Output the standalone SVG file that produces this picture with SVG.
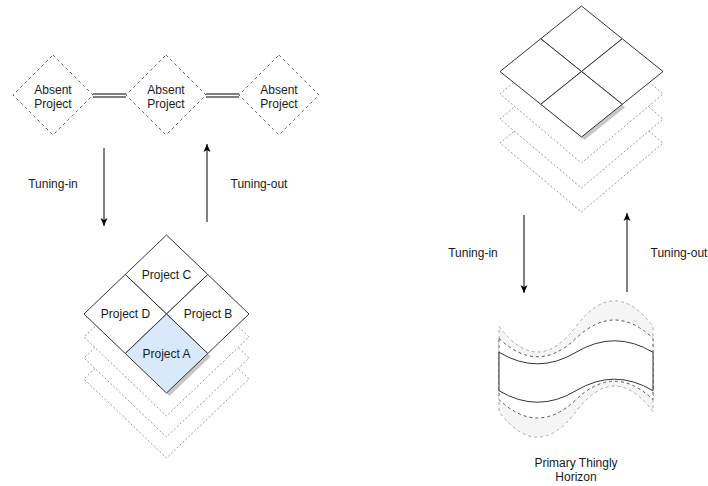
<svg xmlns="http://www.w3.org/2000/svg" width="708" height="486" viewBox="0 0 708 486">
<style>
text{font-family:"Liberation Sans",Arial,sans-serif;font-size:12px;fill:#1a1a1a;text-anchor:middle}
.absent{fill:#fff;stroke:#666;stroke-dasharray:3 3}
.layer{fill:#fff;stroke:#999;stroke-dasharray:2 2}
.cell{fill:#fff;stroke:#333}
.edge{stroke:#000;fill:none}
.shadow{fill:#000;opacity:0.22}
</style>
<defs>
<marker id="arr" markerUnits="userSpaceOnUse" markerWidth="8" markerHeight="8" viewBox="0 0 8 8" refX="8" refY="4" orient="auto">
<path d="M0,0.5 L8,4 L0,7.5 L2,4 Z" fill="#000"/>
</marker>
</defs>
<rect width="708" height="486" fill="#fff"/>

<g id="absent1"><polygon class="absent" points="53,55 93,95 53,135 13,95"/><text x="53" y="94">Absent</text><text x="53" y="108">Project</text></g>
<g id="absent2"><polygon class="absent" points="166,55 206,95 166,135 126,95"/><text x="166" y="94">Absent</text><text x="166" y="108">Project</text></g>
<g id="absent3"><polygon class="absent" points="279,55 319,95 279,135 239,95"/><text x="279" y="94">Absent</text><text x="279" y="108">Project</text></g>

<g id="layersLeft">
<polygon class="layer" points="166.5,300 249,379 166.5,458 84,379"/>
<polygon class="layer" points="166.5,279 249,358 166.5,437 84,358"/>
<polygon class="layer" points="166.5,258 249,337 166.5,416 84,337"/>
</g>
<g id="projectC"><polygon class="cell" points="166.5,235 207.75,274.5 166.5,314 125.25,274.5"/><text x="166.5" y="279">Project C</text></g>
<g id="projectD"><polygon class="cell" points="125.25,274.5 166.5,314 125.25,353.5 84,314"/><text x="125.5" y="318">Project D</text></g>
<g id="projectB"><polygon class="cell" points="207.75,274.5 249,314 207.75,353.5 166.5,314"/><text x="208" y="318">Project B</text></g>
<g id="projectA"><polygon class="shadow" points="169.5,317 210.75,356.5 169.5,396 128.25,356.5"/><polygon points="166.5,314 207.75,353.5 166.5,393 125.25,353.5" fill="#dae8fc" stroke="#333"/><text x="166.5" y="358">Project A</text></g>

<g id="layersRight">
<polygon class="layer" points="581.5,74 663,143 581.5,212 500,143"/>
<polygon class="layer" points="581.5,50 663,119 581.5,188 500,119"/>
<polygon class="layer" points="581.5,25 663,94 581.5,163 500,94"/>
</g>
<g id="gridTop"><polygon class="cell" points="581.5,6 622.25,38.75 581.5,71.5 540.75,38.75"/></g>
<g id="gridLeft"><polygon class="cell" points="540.75,38.75 581.5,71.5 540.75,104.25 500,71.5"/></g>
<g id="gridRight"><polygon class="cell" points="622.25,38.75 663,71.5 622.25,104.25 581.5,71.5"/></g>
<g id="gridBottom"><polygon class="shadow" points="584.5,74.5 625.25,107.25 584.5,140 543.75,107.25"/><polygon class="cell" points="581.5,71.5 622.25,104.25 581.5,137 540.75,104.25"/></g>

<g id="horizon">
<path d="M499,326.4 Q537.5,377.52 576,326.4 Q614.5,275.28 653,326.4 L653,411.6 Q614.5,360.48 576,411.6 Q537.5,462.72 499,411.6 Z" fill="#f5f5f5" stroke="#aaa" stroke-dasharray="3 3"/>
<path d="M499,338.4 Q537.5,375.12 576,338.4 Q614.5,301.68 653,338.4 L653,399.6 Q614.5,362.88 576,399.6 Q537.5,436.32 499,399.6 Z" fill="#fff" stroke="#555" stroke-dasharray="3 3"/>
<path d="M499,352.3 Q537.5,375.34 576,352.3 Q614.5,329.26 653,352.3 L653,390.7 Q614.5,367.66 576,390.7 Q537.5,413.74 499,390.7 Z" fill="#fff" stroke="#333"/>
<text x="576" y="467">Primary Thingly</text><text x="576" y="481">Horizon</text>
</g>

<g id="connectors">
<line x1="93" y1="94" x2="126" y2="94" stroke="#000"/>
<line x1="93" y1="97" x2="126" y2="97" stroke="#000"/>
<line x1="206" y1="94" x2="239" y2="94" stroke="#000"/>
<line x1="206" y1="97" x2="239" y2="97" stroke="#000"/>
<line class="edge" x1="104" y1="148" x2="104" y2="226" marker-end="url(#arr)"/>
<line class="edge" x1="207" y1="222" x2="207" y2="144" marker-end="url(#arr)"/>
<line class="edge" x1="524" y1="215" x2="524" y2="293" marker-end="url(#arr)"/>
<line class="edge" x1="627" y1="292" x2="627" y2="213" marker-end="url(#arr)"/>
<text x="53" y="188">Tuning-in</text>
<text x="259" y="188">Tuning-out</text>
<text x="473" y="257">Tuning-in</text>
<text x="679" y="257">Tuning-out</text>
</g>
</svg>
